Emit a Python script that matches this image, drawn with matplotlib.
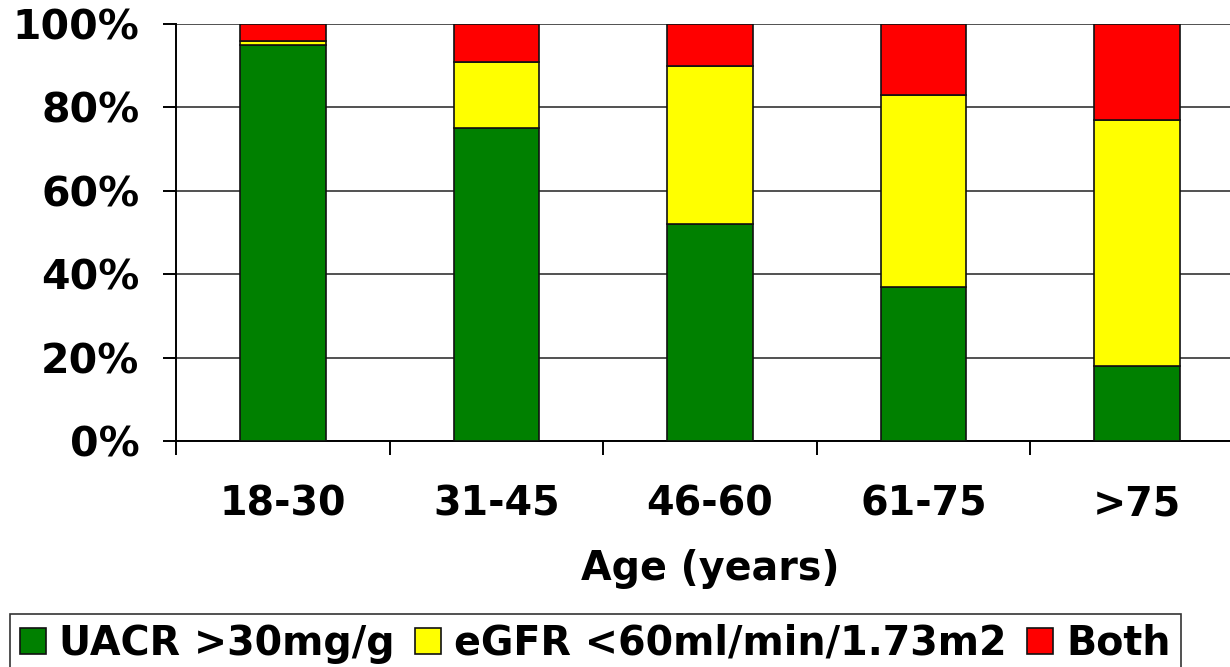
import matplotlib
matplotlib.use("Agg")
import matplotlib.pyplot as plt
from matplotlib.ticker import FixedLocator, PercentFormatter
import numpy as np

# Share of patients (%) in each age band by CKD marker
age_groups = ["18-30", "31-45", "46-60", "61-75", ">75"]
uacr_only = [95, 75, 52, 37, 18]
egfr_only = [1, 16, 38, 46, 59]
both = [4, 9, 10, 17, 23]

series_names = ["UACR >30mg/g", "eGFR <60ml/min/1.73m2", "Both"]
series_colors = ["#008000", "#FFFF00", "#FF0000"]

plt.rcParams["font.family"] = ["DejaVu Sans"]
plt.rcParams["font.weight"] = "bold"

fig = plt.figure(figsize=(12.30, 6.67), dpi=100)
# plot area runs slightly past the right edge of the canvas
ax = fig.add_axes([176 / 1230, 1 - 441 / 667, 1068 / 1230, 417 / 667])

x = np.arange(len(age_groups))
bottom = np.zeros(len(age_groups))
for vals, name, col in zip([uacr_only, egfr_only, both], series_names, series_colors):
    ax.bar(x, vals, width=0.40, bottom=bottom, color=col, edgecolor="#111111",
           linewidth=1.2, label=name, zorder=3)
    bottom += np.array(vals)

ax.set_xlim(-0.5, len(age_groups) - 0.5)
ax.set_ylim(0, 100)
ax.set_yticks([0, 20, 40, 60, 80, 100])
ax.yaxis.set_major_formatter(PercentFormatter(decimals=0))
ax.grid(axis="y", color="#222222", linewidth=1.1, zorder=0)
ax.set_axisbelow(True)

for side in ("top", "right"):
    ax.spines[side].set_visible(False)
for side in ("left", "bottom"):
    ax.spines[side].set_linewidth(1.4)
    ax.spines[side].set_color("black")

ax.set_xticks(x)
ax.set_xticklabels(age_groups)
ax.xaxis.set_minor_locator(FixedLocator(np.arange(-0.5, len(age_groups), 1.0)))
ax.tick_params(axis="x", which="major", length=0, pad=31, labelsize=28.5)
ax.tick_params(axis="x", which="minor", length=10, width=1.4, direction="out")
ax.tick_params(axis="y", length=9.5, width=1.4, direction="out", pad=17, labelsize=29.5)
for lab in ax.get_xticklabels() + ax.get_yticklabels():
    lab.set_fontweight("bold")

ax.set_xlabel("Age (years)", fontsize=28.5, fontweight="bold", labelpad=18)

leg = fig.legend(loc="upper left", bbox_to_anchor=(10 / 1230, 1 - 614 / 667),
                 ncol=3, fontsize=28.5, frameon=True, fancybox=False,
                 edgecolor="black", handlelength=0.65, handleheight=0.65,
                 handletextpad=0.35, columnspacing=0.5, borderpad=0.25,
                 borderaxespad=0)
leg.get_frame().set_linewidth(1.2)
for t in leg.get_texts():
    t.set_fontweight("bold")

fig.savefig("out.png", dpi=100)
